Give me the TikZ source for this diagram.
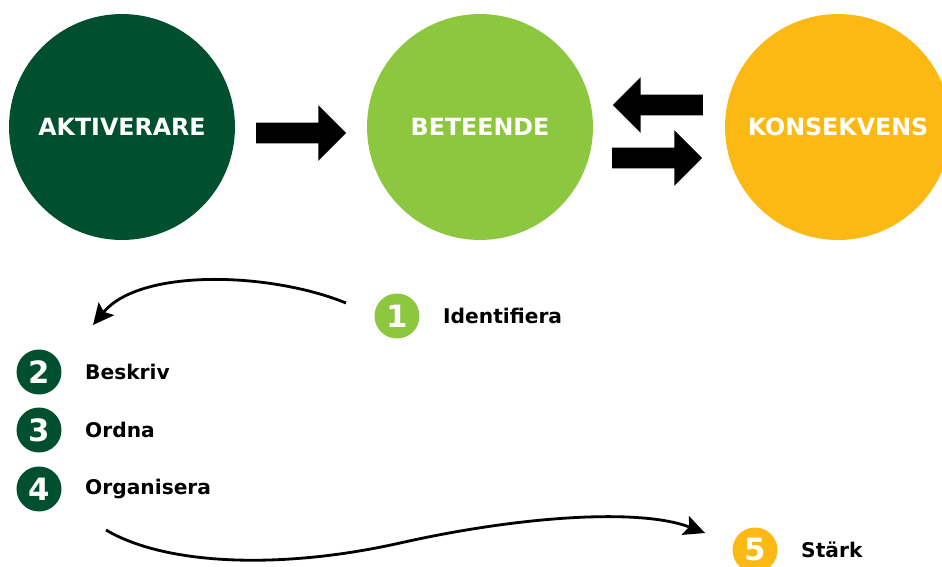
\documentclass[tikz,border=0pt]{standalone}
\usepackage{fontspec}
\setmainfont{DejaVu Sans}
\usetikzlibrary{positioning,shapes.arrows,arrows.meta}
\definecolor{darkgreen}{HTML}{00502F}
\definecolor{lightgreen}{HTML}{8DC63F}
\definecolor{amber}{HTML}{FDB913}

\tikzstyle{phase}=[circle,minimum size=4.52cm,inner sep=0pt,text=white,font=\bfseries\fontsize{13.5}{16}\selectfont]
\tikzstyle{number}=[circle,minimum size=0.9cm,inner sep=0pt,text=white,font=\bfseries\fontsize{17.5}{20}\selectfont]
\tikzstyle{action}=[inner sep=0pt,font=\bfseries\fontsize{11.5}{14}\selectfont]
\tikzstyle{block arrow}=[single arrow,fill=black,inner xsep=0pt,inner ysep=0.2cm,single arrow head extend=0.35cm,minimum height=1.8cm]
\tikzstyle{curve}=[draw,line width=1.6pt,-{Stealth[length=0.42cm,width=0.4cm,inset=0.08cm]}]

\begin{document}
\begin{tikzpicture}[x=0.02cm,y=-0.02cm]
    \useasboundingbox (0,0) rectangle (942,567);
    % The three phases
    \foreach \pos/\name/\col/\txt in {{(122,127)/akt/darkgreen/AKTIVERARE},
        {(480,127)/bet/lightgreen/BETEENDE},{(838,127)/kon/amber/KONSEKVENS}}
    \node[phase,fill=\col] (\name) at \pos {\txt};
    % Block arrows between them
    \node[block arrow] (toBet) at (296,133) {};
    \node[block arrow,shape border rotate=180] (toBack) at (663,105) {};
    \node[block arrow] (toKon) at (652,158) {};
    % The numbered steps
    \foreach \pos/\name/\col/\num/\txt in {{(397,316)/s1/lightgreen/1/Identifiera},
        {(39,372)/s2/darkgreen/2/Beskriv},{(39,430)/s3/darkgreen/3/Ordna},
        {(39,489)/s4/darkgreen/4/Organisera},{(755,550)/s5/amber/5/Stärk}}
    {
    \node[number,fill=\col] (\name) at \pos {\num};
    \node[action,right=0.46cm of \name] (\name txt) {\txt};
    }
    % Curved arrows
    \coordinate (c1s) at (346,303);
    \coordinate (c1e) at (93,325);
    \coordinate (c2s) at (106,530);
    \coordinate (c2e) at (705,533);
    \path[curve] (c1s) .. controls (270,272) and (140,268) .. (c1e);
    \path[curve] (c2s) .. controls (165,565) and (280,570) .. (400,543)
        .. controls (520,516) and (640,508) .. (c2e);
\end{tikzpicture}
\end{document}
